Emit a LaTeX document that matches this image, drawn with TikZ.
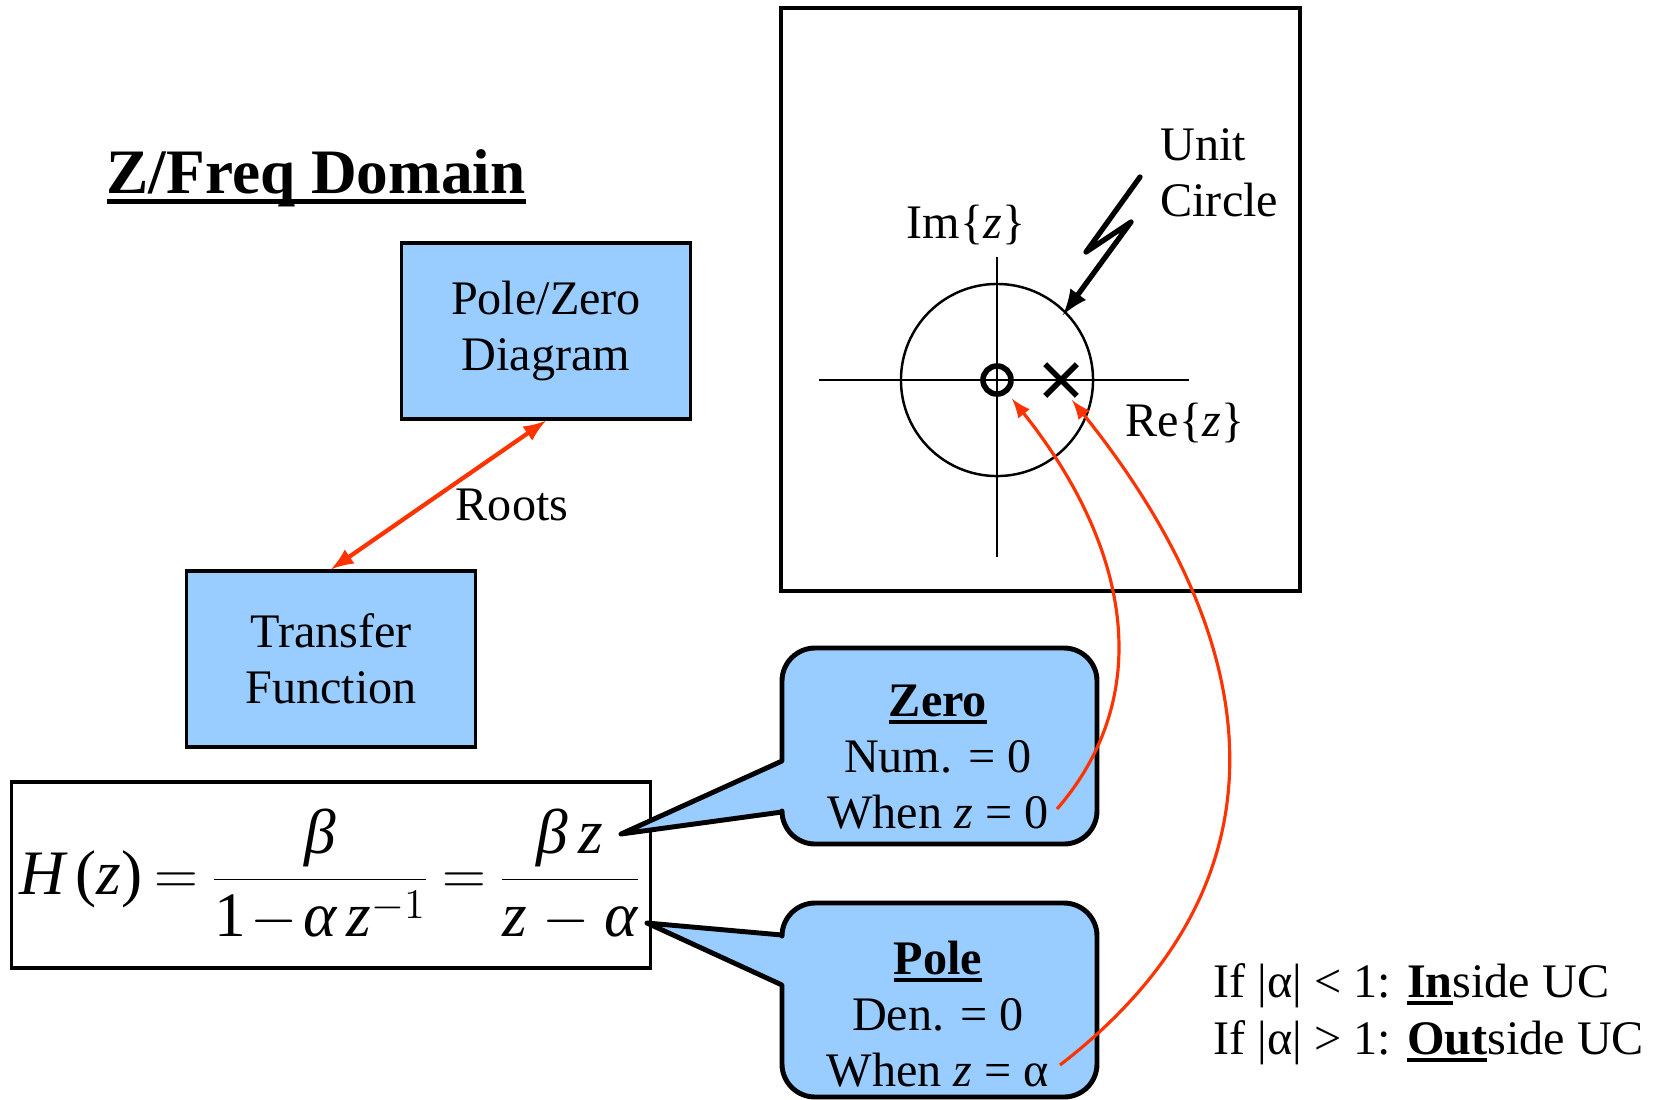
\documentclass[tikz,border=0pt]{standalone}
\usepackage{xcolor}
\usepackage{tikz}
\usepackage{fontspec}
\setmainfont{Liberation Serif}
\usetikzlibrary{shapes,arrows,positioning}

\definecolor{boxblue}{RGB}{153,204,255}
\definecolor{rootred}{RGB}{255,51,0}
\newcommand{\vi}[1]{\mbox{\itshape #1}}
% heavier underline, sitting close to the baseline
\newcommand{\thickul}[1]{\leavevmode{\setbox0=\hbox{#1}%
    \rlap{\vrule height -0.09em depth 0.17em width \wd0}\box0}}

\begin{document}
\begin{tikzpicture}[x=0.01cm,y=-0.01cm,
    txt/.style={font=\fontsize{13.7}{16}\selectfont},
    bluebox/.style={draw,line width=0.9pt,fill=boxblue,minimum width=2.89cm,
        minimum height=1.76cm,align=center,txt},
    callout/.style={draw,line width=1.4pt,fill=boxblue,line join=round},
    redarrow/.style={rootred,line width=0.9pt,-latex}]
    \useasboundingbox (0,0) rectangle (1657,1099);

    % title
    \node[anchor=base west,inner sep=0,font=\fontsize{18}{22}\selectfont\bfseries]
        (title) at (106,193) {\thickul{Z/Freq Domain}};

    % the two blocks and the roots link
    \node[bluebox] (pzd) at (546,331) {Pole/Zero\\Diagram};
    \node[bluebox] (tf) at (331,659) {Transfer\\Function};
    \draw[rootred,line width=1.2pt,latex-latex] (pzd.south) -- (tf.north);
    \node[txt] (roots) at (512,505) {Roots};

    % transfer function
    \node[draw,line width=0.9pt,minimum width=6.38cm,minimum height=1.86cm,inner sep=0]
        (hz) at (331,875) {\fontsize{18}{22}\selectfont
        \thickmuskip=3.5mu \medmuskip=1.5mu
        $\displaystyle \vi{H}\,\mbox{(}\vi{z}\mbox{)} = \frac{\vi{β}}{\mbox{1}-\vi{α}\,\vi{z}^{-1}}
        = \frac{\vi{β}\,\vi{z}}{\vi{z}\mskip3mu-\mskip3mu\vi{α}}$};
    \coordinate (ztip) at (621,834);
    \coordinate (ptip) at (647,923);

    % z-plane
    \draw[line width=1.3pt] (781,8) rectangle (1300,591);
    \coordinate (origin) at (997,380);
    \draw[line width=0.7pt] (819,380) -- (1189,380);
    \draw[line width=0.7pt] (997,257) -- (997,557);
    \draw[line width=0.7pt] (origin) circle (0.96cm);
    \node[circle,draw,line width=1.6pt,minimum size=0.28cm,inner sep=0] (zero) at (origin) {};
    \node[cross out,draw,line width=1.6pt,minimum size=0.26cm,inner sep=0] (pole) at (1061,380) {};
    \coordinate (polehit) at (1072,400);
    \node[txt,anchor=base] (imlab) at (966,238) {Im\{\textit{z}\}};
    \node[txt,anchor=base] (relab) at (1185,436) {Re\{\textit{z}\}};
    \node[txt,align=left,anchor=north west] (uclab) at (1148,116) {Unit\\Circle};

    % bolt to the unit circle
    \coordinate (boltA) at (1140,177);
    \coordinate (uchit) at (1063,315);
    \draw[line width=1.5pt,line join=round,line cap=round,-latex]
        (boltA) -- (1086,252) -- (1131,222) -- (uchit);

    % callouts
    \draw[callout] (782,761) -- (ztip) -- (782,812) [rounded corners=0.33cm] -- (782,844)
        -- (1097,844) -- (1097,648) -- (782,648) [sharp corners] -- cycle;
    \draw[callout] (782,935) -- (ptip) -- (782,985) [rounded corners=0.33cm] -- (782,1097)
        -- (1097,1097) -- (1097,903) -- (782,903) [sharp corners] -- cycle;
    \node[txt,align=center] (zerotxt) at (938,757)
        {\textbf{\thickul{Zero}}\\Num. = 0\\When \textit{z} = 0};
    \node[txt,align=center] (poletxt) at (938,1014)
        {\textbf{\thickul{Pole}}\\Den. = 0\\When \textit{z} = α};

    % red links back to the plot
    \coordinate (zeroend) at (1057,809);
    \coordinate (poleend) at (1060,1065);
    \draw[redarrow,shorten >=2pt] (zeroend) .. controls (1160,690) and (1125,540) .. (zero);
    \draw[redarrow] (poleend) .. controls (1300,880) and (1265,640) .. (polehit);

    % stability note
    \node[txt,anchor=base west,inner sep=0] (inside) at (1213,997)
        {If |α| < 1: \textbf{\thickul{In}}side UC};
    \node[txt,anchor=base west,inner sep=0] (outside) at (1213,1054)
        {If |α| > 1: \textbf{\thickul{Out}}side UC};
\end{tikzpicture}
\end{document}
